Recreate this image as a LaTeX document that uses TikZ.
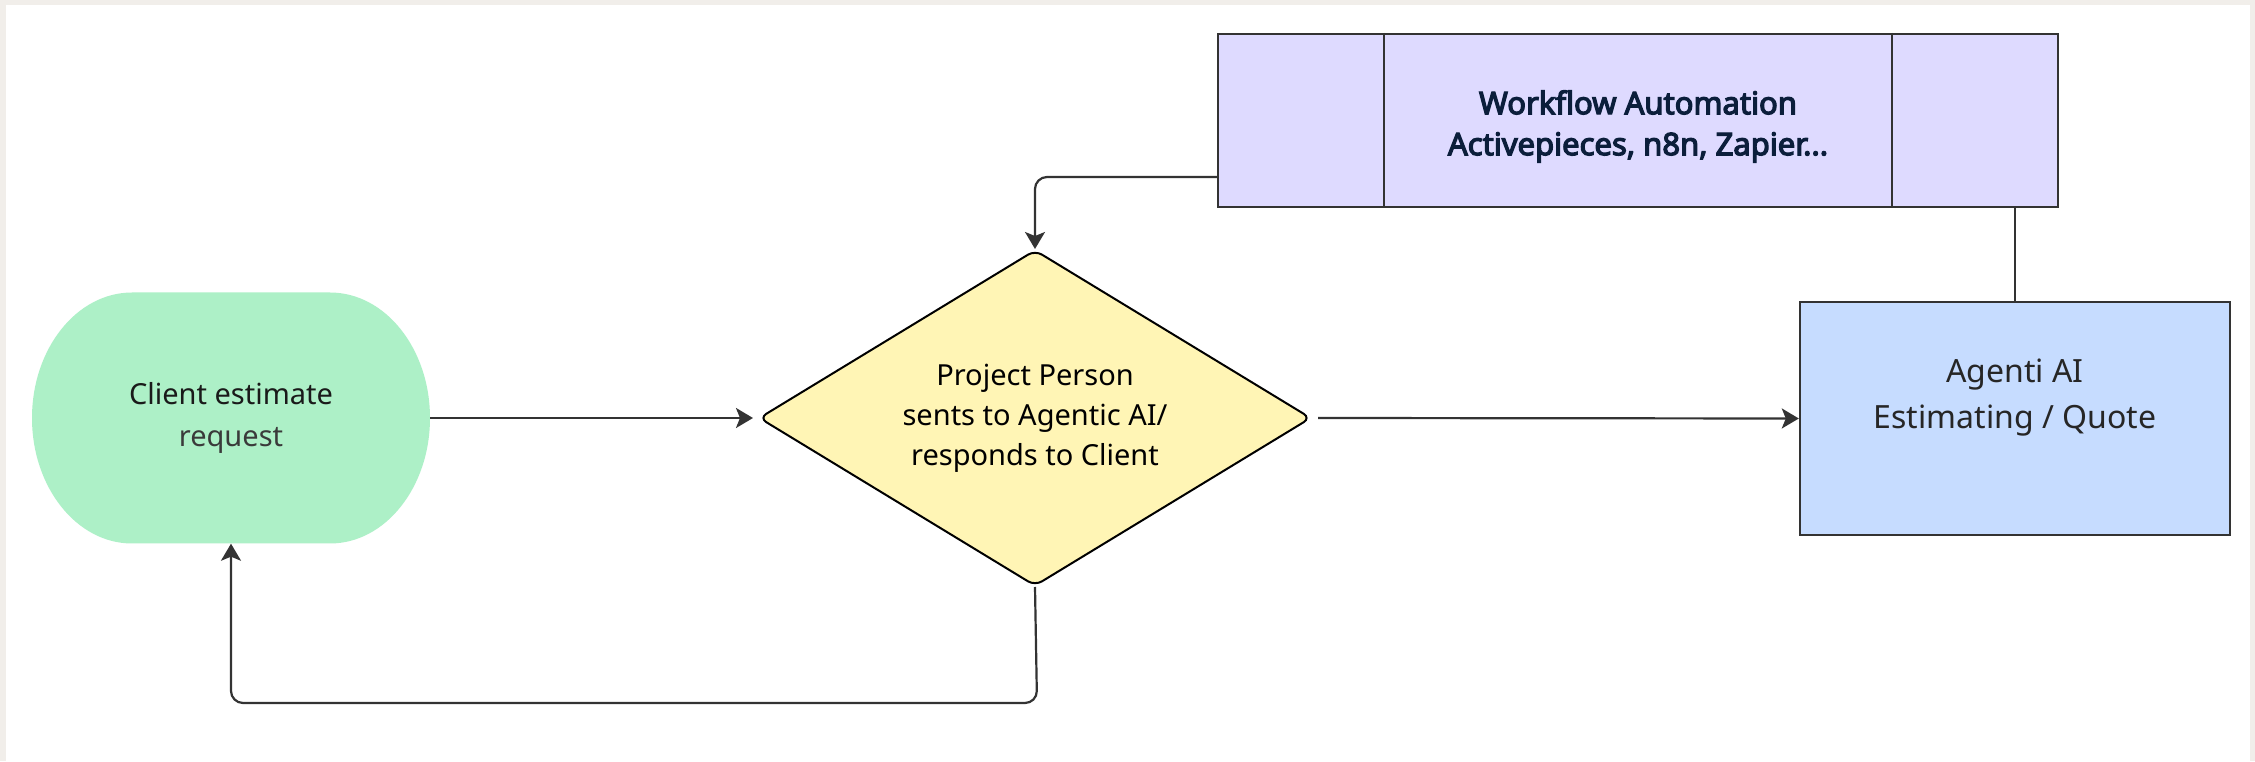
\documentclass[tikz,border=0pt]{standalone}
\usepackage{fontspec}
\setmainfont{Noto Sans}[AutoFakeBold=4]
\usepackage{xcolor}
\usetikzlibrary{positioning, arrows.meta, shapes.geometric}

\definecolor{framegray}{HTML}{F1EEEA}
\definecolor{termgreen}{HTML}{ADF0C7}
\definecolor{decyellow}{HTML}{FFF5B5}
\definecolor{procblue}{HTML}{C6DCFF}
\definecolor{autoviolet}{HTML}{DEDAFF}
\definecolor{linegray}{HTML}{333333}
\definecolor{navytext}{HTML}{0B1E3B}

\tikzset{
  terminal/.style={rectangle, minimum width=398pt, minimum height=251pt, inner sep=0pt, align=center,
    font=\fontsize{29}{42}\selectfont,
    path picture={\fill[termgreen] ([xshift=100pt]path picture bounding box.north west)
      -- ([xshift=-100pt]path picture bounding box.north east)
      arc[start angle=90, end angle=-90, x radius=100pt, y radius=125.5pt]
      -- ([xshift=100pt]path picture bounding box.south west)
      arc[start angle=270, end angle=90, x radius=100pt, y radius=125.5pt] -- cycle;}},
  decision/.style={diamond, draw=black, line width=2pt, fill=decyellow, aspect=1.64,
    minimum width=552pt, minimum height=336pt, inner sep=0pt, rounded corners=8pt,
    align=center, font=\fontsize{29}{40}\selectfont},
  box/.style={rectangle, draw=linegray, line width=2.4pt, inner sep=0pt, align=center},
  conn/.style={draw=linegray, line width=2.2pt, rounded corners=12pt},
  tip/.style={-{Stealth[length=17pt, width=20pt, inset=4pt]}}
}

\begin{document}
\begin{tikzpicture}[x=1pt, y=1pt]
% frame
\fill[framegray] (0,0) rectangle (2255,761);
\fill[white] (6,0) rectangle (2250,756);
\useasboundingbox (0,0) rectangle (2255,761);

% shapes
\node[terminal] (client) at (231,343) {\color[HTML]{1A1A1A}Client estimate\\ \color[HTML]{3A3A3A}request};
\node[decision] (dec) at (1035,343) {Project Person\\sents to Agentic AI/\\responds to Client};
\node[box, fill=procblue, minimum width=430pt, minimum height=233pt, text depth=50pt,
  font=\fontsize{32}{46}\selectfont, text=black!85] (quote) at (2015,342.5) {Agenti AI\\Estimating / Quote};
\node[box, fill=autoviolet, minimum width=840pt, minimum height=173pt] (wf) at (1638,640.5) {};
\node[align=center, inner sep=0pt, font=\fontsize{31}{41}\selectfont\bfseries, text=navytext]
  (wftext) at ([yshift=-6pt]wf.center) {Workflow Automation\\Activepieces, n8n, Zapier...};
\draw[linegray, line width=2.4pt] ([xshift=167pt]wf.north west) -- ([xshift=167pt]wf.south west);
\draw[linegray, line width=2.4pt] ([xshift=-167pt]wf.north east) -- ([xshift=-167pt]wf.south east);

% connectors
\coordinate (wfout) at (wf.west |- 0,584);
\coordinate (loop) at (1037,58);
\draw[conn, tip, shorten >=5pt] (client.east) -- (dec.west);
\draw[conn, tip, shorten <=6pt] (dec.east) -- (quote.west);
\draw[conn, tip] (wfout) -| (dec.north);
\draw[conn, tip] (dec.south) -- (loop) -| (client.south);
\draw[conn] (wf.south -| quote.north) -- (quote.north);
\end{tikzpicture}
\end{document}
